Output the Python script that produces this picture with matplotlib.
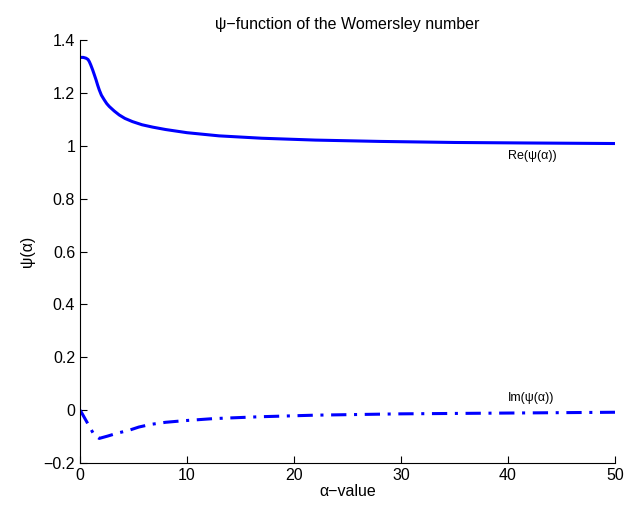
import numpy as np
import matplotlib
matplotlib.use('Agg')
import matplotlib.pyplot as plt
from matplotlib.ticker import FuncFormatter

plt.rcParams['font.family'] = ['Liberation Sans', 'DejaVu Sans']
plt.rcParams['axes.unicode_minus'] = True

# 读取自图像的数据点
alpha_re = [0, 0.3, 0.56, 0.75, 0.87, 1.0, 1.18, 1.35, 1.5, 1.65, 1.8, 2.0, 2.27, 2.5, 2.74, 3.2, 3.67, 4.2, 4.9, 5.8, 6.8,
            8.0, 10, 13, 17, 22, 28, 35, 42, 50]
psi_re = [1.335, 1.335, 1.332, 1.327, 1.319, 1.307, 1.288, 1.268, 1.250, 1.230, 1.212, 1.192, 1.174, 1.160, 1.149, 1.132,
          1.117, 1.104, 1.092, 1.080, 1.071, 1.062, 1.050, 1.038, 1.029, 1.022, 1.017, 1.013, 1.011, 1.009]

alpha_im = [0, 0.1, 1.34, 1.8, 2.6, 3.5, 4.6, 5.5, 6.6, 8.0, 9.7, 12.5, 16.8, 22, 30, 40, 50]
psi_im = [0.0, -0.006, -0.095, -0.107, -0.098, -0.087, -0.076, -0.064, -0.054, -0.046, -0.040, -0.032, -0.025, -0.019,
          -0.014, -0.011, -0.008]

x_ticks = [0, 10, 20, 30, 40, 50]
y_ticks = [-0.2, 0, 0.2, 0.4, 0.6, 0.8, 1.0, 1.2, 1.4]

fig = plt.figure(figsize=(6.25, 5.09), dpi=100)
ax = fig.add_axes([0.128, 0.0904, 0.856, 0.8306])

ax.plot(alpha_re, psi_re, color='#0000ff', lw=2.2, solid_capstyle='butt')
ax.plot(alpha_im, psi_im, color='#0000ff', lw=2.2, linestyle=(0, (5, 2.5, 1, 2.5)))

ax.text(40, 0.96, 'Re(ψ(α))', fontsize=9, va='center', ha='left')
ax.text(40, 0.045, 'Im(ψ(α))', fontsize=9, va='center', ha='left')

ax.set_xlim(0, 50)
ax.set_ylim(-0.2, 1.4)
ax.set_xticks(x_ticks)
ax.set_yticks(y_ticks)
ax.yaxis.set_major_formatter(FuncFormatter(lambda v, p: ('%g' % round(v, 2)).replace('-', '\u2212')))

ax.spines['top'].set_visible(False)
ax.spines['right'].set_visible(False)
ax.tick_params(direction='in', length=5, labelsize=11.5, width=0.8)

ax.set_title('ψ\u2212function of the Womersley number', fontsize=11.5, pad=8)
ax.set_xlabel('α\u2212value', fontsize=11.5, labelpad=1)
ax.set_ylabel('ψ(α)', fontsize=11.5, labelpad=6)

fig.savefig('out.png', dpi=100)
